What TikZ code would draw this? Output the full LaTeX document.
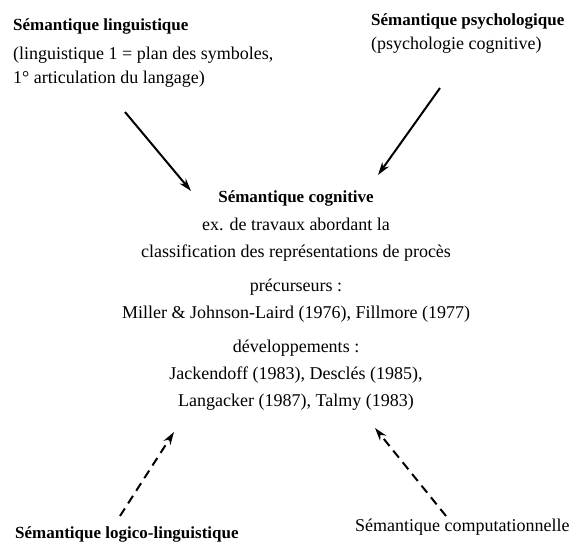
\documentclass[tikz,border=0pt]{standalone}
\usepackage{fontspec}
\setmainfont{Liberation Serif}
\usetikzlibrary{arrows.meta}
\begin{document}
\begin{tikzpicture}[x=1pt,y=-1pt,
  reg/.style={font=\fontsize{18}{22}\selectfont, inner sep=0pt},
  bld/.style={font=\fontsize{17}{22}\selectfont\bfseries, inner sep=0pt},
  arr/.style={line width=2pt, -{Stealth[length=13pt,width=8pt]}},
  darr/.style={arr, dash pattern=on 9pt off 6pt}]
\useasboundingbox (0,0) rectangle (569,545);
% top left
\node[bld, anchor=base west] (tl1) at (13,31) {Sémantique linguistique};
\node[reg, anchor=base west] (tl2) at (13,60) {(linguistique 1 = plan des symboles,};
\node[reg, anchor=base west] (tl3) at (13,84) {1° articulation du langage)};
% top right
\node[bld, anchor=base west] (tr1) at (371,26) {Sémantique psychologique};
\node[reg, anchor=base west] (tr2) at (371,50) {(psychologie cognitive)};
% centre
\node[bld, anchor=base] (c1) at (296,203) {Sémantique cognitive};
\node[reg, anchor=base] (c2) at (296,230) {ex. de travaux abordant la};
\node[reg, anchor=base] (c3) at (296,257) {classification des représentations de procès};
\node[reg, anchor=base] (c4) at (296,291) {précurseurs :};
\node[reg, anchor=base] (c5) at (296,318) {Miller \& Johnson-Laird (1976), Fillmore (1977)};
\node[reg, anchor=base] (c6) at (296,352) {développements :};
\node[reg, anchor=base] (c7) at (296,379) {Jackendoff (1983), Desclés (1985),};
\node[reg, anchor=base] (c8) at (296,406) {Langacker (1987), Talmy (1983)};
% bottom
\node[bld, anchor=base west] (bl) at (15,538) {Sémantique logico-linguistique};
\node[reg, anchor=base west] (br) at (355,531) {Sémantique computationnelle};
% arrow ends
\coordinate (a1s) at (125,112); \coordinate (a1e) at (191,191);
\coordinate (a2s) at (440,88);  \coordinate (a2e) at (378,175);
\coordinate (a3s) at (120,516); \coordinate (a3e) at (174,432);
\coordinate (a4s) at (446,516); \coordinate (a4e) at (375,428);
\draw[arr] (a1s) -- (a1e);
\draw[arr] (a2s) -- (a2e);
\draw[darr] (a3s) -- (a3e);
\draw[darr] (a4s) -- (a4e);
\end{tikzpicture}
\end{document}
